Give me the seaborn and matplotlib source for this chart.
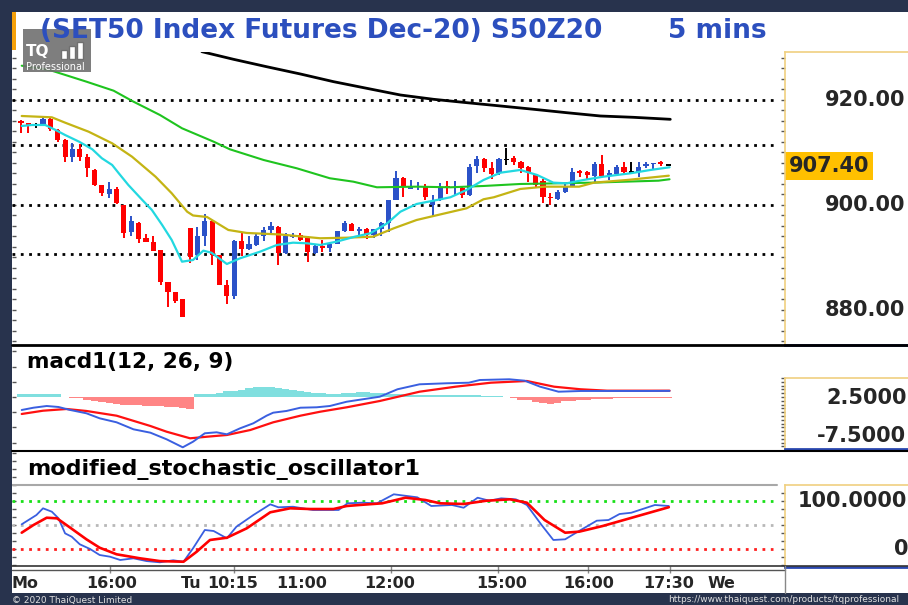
import numpy as np
import matplotlib
matplotlib.use("Agg")
import matplotlib.pyplot as plt
import matplotlib.transforms as mtrans
from matplotlib.patches import Rectangle
from matplotlib.lines import Line2D
from matplotlib.ticker import MultipleLocator, NullLocator, FixedLocator
import seaborn as sns

# ---- 5-minute candles ----
opens = [916.0, 915.6, 915.2, 915.2, 916.3, 914.3, 912.4, 909.1, 910.6, 909.1,
         906.7, 903.8, 902.1, 903.0, 900.0, 894.9, 896.6, 893.8, 893.0, 891.4,
         885.4, 883.5, 882.0, 895.6, 890.4, 894.1, 897.0, 890.5, 884.8, 882.7,
         893.2, 891.6, 892.4, 894.0, 895.2, 895.9, 890.8, 893.9, 894.3, 893.8,
         890.9, 892.1, 891.8, 892.6, 895.1, 896.4, 895.1, 895.5, 894.3, 895.4,
         896.6, 901.0, 905.1, 903.1, 903.4, 903.6, 900.0, 901.0, 903.6, 903.2,
         903.2, 901.9, 907.4, 908.7, 907.0, 906.0, 908.7, 908.9, 908.2, 907.2,
         905.7, 904.6, 901.5, 901.1, 902.5, 903.6, 906.5, 906.2, 905.5, 907.8,
         905.5, 905.9, 907.3, 906.3, 906.2, 907.4, 907.8, 908.1, 907.6]
highs = [916.2, 915.7, 915.7, 916.5, 916.6, 914.4, 912.5, 911.9, 911.7, 909.8,
         906.9, 903.8, 904.4, 903.4, 900.0, 897.9, 896.8, 894.5, 894.0, 891.4,
         885.4, 883.5, 882.0, 895.6, 895.9, 898.3, 897.2, 890.5, 885.7, 893.3,
         894.6, 894.0, 894.7, 895.9, 896.8, 896.0, 894.6, 894.6, 894.6, 894.0,
         892.3, 893.3, 892.6, 895.1, 897.0, 896.6, 895.9, 895.7, 895.5, 896.7,
         901.0, 906.5, 905.4, 904.8, 904.4, 904.0, 901.9, 904.2, 904.6, 904.6,
         903.5, 907.9, 909.3, 908.9, 908.2, 909.0, 910.8, 909.3, 908.3, 907.4,
         905.9, 904.9, 902.2, 902.9, 904.2, 907.0, 906.7, 906.5, 908.1, 909.5,
         906.7, 907.6, 908.1, 908.1, 908.1, 908.2, 907.9, 908.3, 907.7]
lows = [913.7, 913.7, 914.6, 915.2, 914.0, 912.0, 908.1, 908.2, 908.4, 905.4,
        903.6, 901.7, 901.3, 900.2, 893.8, 894.0, 892.7, 893.0, 891.3, 884.8,
        880.5, 881.4, 878.7, 888.9, 889.5, 892.1, 888.6, 884.8, 881.1, 882.0,
        890.2, 891.5, 892.1, 893.2, 894.3, 888.6, 890.6, 893.7, 893.2, 889.2,
        890.6, 891.1, 891.0, 892.5, 894.9, 895.0, 894.1, 893.5, 893.8, 894.1,
        894.9, 901.0, 901.5, 903.0, 902.9, 901.0, 897.9, 900.8, 902.1, 901.7,
        901.3, 901.7, 906.0, 906.3, 904.9, 905.8, 907.6, 907.6, 906.0, 904.4,
        903.4, 900.3, 900.0, 900.9, 902.2, 903.5, 905.4, 904.9, 904.2, 905.4,
        904.8, 905.8, 906.0, 906.2, 905.4, 907.0, 906.8, 907.4, 907.5]
closes = [915.6, 915.2, 915.2, 916.3, 914.4, 912.4, 909.1, 910.6, 909.1, 907.0,
          903.8, 902.2, 903.0, 900.3, 894.7, 897.0, 893.5, 893.0, 891.3, 885.4,
          883.5, 881.8, 878.7, 890.1, 894.1, 897.0, 890.5, 884.8, 882.7, 893.2,
          891.6, 892.6, 894.1, 895.2, 896.0, 890.8, 894.0, 894.3, 893.3, 891.1,
          892.1, 891.8, 892.6, 895.1, 896.5, 895.1, 895.5, 894.3, 895.5, 896.6,
          901.0, 905.1, 903.5, 903.6, 903.6, 901.5, 900.8, 903.5, 903.2, 903.4,
          901.9, 907.2, 908.7, 907.0, 905.9, 908.7, 908.7, 908.2, 907.0, 906.0,
          903.8, 901.5, 901.3, 902.5, 903.5, 906.3, 906.0, 905.7, 907.9, 905.5,
          906.0, 907.2, 906.3, 906.3, 907.3, 907.8, 907.9, 907.8, 907.6]

# ---- moving averages (x = bar number) ----
cyan_x = [0.1, 1.5, 3.3, 4.7, 6.0, 7.9, 9.7, 11.0, 12.4, 13.3, 14.6, 16.5, 17.8, 19.2, 20.5,
          21.9, 23.4, 24.8, 25.9, 28.0, 29.8, 32.5, 34.8, 37.0, 38.9, 40.7, 42.9, 45.4, 47.5,
          49.8, 51.6, 53.8, 56.1, 58.4, 60.6, 62.9, 65.2, 67.9, 70.2, 72.4, 74.2, 76.5, 79.2,
          82.9, 85.6, 88.2]
cyan_y = [915.05, 915.24, 915.24, 914.29, 913.33, 912.06, 910.61, 908.9, 907.62, 906.04,
          903.81, 900.95, 899.05, 896.19, 893.33, 889.2, 889.52, 891.3, 890.91, 888.76,
          889.85, 891.1, 892.38, 892.82, 892.7, 892.38, 893.01, 893.96, 894.61, 896.51,
          898.72, 900.19, 900.82, 901.47, 902.86, 904.76, 906.15, 906.67, 905.71, 904.25,
          904.13, 904.76, 905.39, 906.04, 906.67, 907.18]
olive_x = [0.1, 4.2, 6.0, 9.2, 12.4, 15.1, 18.3, 20.5, 22.6, 23.4, 25.3, 28.2, 30.7, 35.3, 40.7,
           44.3, 47.9, 50.7, 53.8, 56.1, 60.6, 62.9, 64.3, 67.9, 71.2, 75.9, 77.9, 82.4, 84.7, 88.1]
olive_y = [916.95, 916.7, 915.68, 913.96, 911.75, 909.2, 905.39, 902.23, 898.72, 898.0,
           897.71, 895.24, 894.67, 894.38, 893.66, 893.77, 893.96, 895.56, 897.14, 897.9,
           899.37, 901.09, 901.47, 903.05, 903.49, 903.49, 904.25, 904.76, 905.09, 905.58]
green_x = [0.1, 3.9, 8.9, 12.6, 15.3, 18.9, 21.9, 26.2, 28.4, 33.0, 37.5, 42.0, 45.2, 48.4,
           53.8, 58.4, 62.9, 67.9, 73.1, 77.6, 82.1, 86.7, 88.2]
green_y = [926.53, 925.71, 923.49, 921.77, 919.68, 917.14, 914.61, 912.06, 910.61, 908.57,
           906.99, 905.09, 904.44, 903.37, 903.49, 903.37, 903.62, 904.0, 904.13, 904.25,
           904.44, 904.63, 904.9]
black_x = [24.6, 28.9, 33.4, 38.0, 42.5, 47.0, 51.6, 56.1, 60.6, 65.2, 69.7, 74.2, 78.8, 83.3, 88.3]
black_y = [929.2, 927.75, 926.34, 924.95, 923.49, 922.23, 920.95, 920.13, 919.49, 918.86,
           918.23, 917.58, 916.95, 916.7, 916.32]
price_levels = [920.0, 911.4, 900.0, 890.7]
price_ticks = [920.0, 900.0, 880.0]
price_labels = ["920.00", "900.00", "880.00"]
last_price = 907.4

# ---- MACD(12, 26, 9) ----
macd_x = [0.1, 1.7, 3.5, 5.1, 6.7, 8.9, 10.7, 13.0, 15.3, 17.6, 19.8, 22.0, 23.4, 25.0, 26.6,
          28.0, 29.8, 31.6, 33.4, 34.3, 36.1, 38.0, 40.2, 42.0, 44.3, 48.8, 51.2, 54.2, 57.9,
          60.9, 62.4, 66.4, 68.5, 70.6, 73.1, 76.1, 85.2, 88.2]
macd_y = [-3.42, -2.82, -2.37, -2.63, -3.42, -4.29, -5.61, -6.66, -8.5, -9.39, -11.13, -13.24,
          -11.76, -9.55, -9.29, -9.82, -8.24, -6.92, -4.92, -4.13, -3.68, -2.82, -2.71, -2.37,
          -1.24, 0.08, 2.03, 3.34, 3.61, 3.76, 4.47, 4.66, 4.29, 2.71, 1.39, 1.58, 1.58, 1.6]
signal_x = [0.1, 3.0, 6.2, 8.9, 13.0, 17.6, 19.8, 23.0, 25.3, 28.0, 31.2, 34.3, 38.0, 40.7,
            44.3, 48.8, 54.2, 59.1, 63.9, 68.8, 72.5, 76.1, 79.7, 88.2]
signal_y = [-4.47, -3.61, -3.16, -3.68, -4.92, -7.63, -9.13, -10.87, -10.45, -10.0, -8.68,
            -6.66, -4.92, -3.87, -2.71, -1.05, 1.39, 2.71, 3.76, 4.21, 2.71, 2.03, 1.66, 1.66]
hist = [0.87, 0.87, 0.87, 0.87, 0.87, 0.87, 0.0, -0.18, -0.39, -0.71,
        -0.97, -1.24, -1.58, -1.92, -2.03, -2.11, -2.18, -2.37, -2.45, -2.5,
        -2.63, -2.71, -2.89, -3.03, 0.79, 0.87, 0.87, 1.18, 1.45, 1.58,
        1.97, 2.37, 2.5, 2.63, 2.63, 2.37, 2.11, 1.84, 1.66, 1.32,
        1.18, 1.0, 0.87, 0.87, 1.05, 1.13, 1.26, 1.32, 1.18, 1.0,
        0.87, 0.79, 0.71, 0.61, 0.58, 0.53, 0.47, 0.45, 0.45, 0.47,
        0.53, 0.61, 0.53, 0.39, 0.26, 0.13, 0.0, -0.26, -0.66, -0.92,
        -1.32, -1.71, -1.76, -1.45, -1.18, -1.05, -0.87, -0.71, -0.61, -0.53,
        -0.45, -0.39, -0.34, -0.32, -0.26, -0.26, -0.21, -0.18, -0.18]
macd_ticks = [2.5, -7.5]
macd_labels = ["2.5000", "-7.5000"]

# ---- modified stochastic oscillator ----
k_x = [0.1, 2.1, 3.0, 4.2, 5.1, 6.0, 6.9, 8.0, 9.4, 10.7, 12.1, 13.5, 15.3, 17.1, 18.9, 20.7,
       22.1, 23.4, 25.0, 26.2, 28.0, 29.3, 31.6, 33.9, 35.0, 37.0, 39.7, 43.2, 44.4, 46.4, 48.4,
       50.7, 53.9, 55.8, 58.6, 60.2, 62.1, 63.7, 65.3, 67.3, 68.8, 70.8, 72.4, 74.0, 75.5, 78.3,
       79.9, 81.4, 83.0, 86.2, 88.1]
k_y = [51.5, 70.8, 84.8, 77.7, 64.0, 32.6, 25.6, 9.8, 0.0, -12.5, -16.0, -22.9, -19.4, -25.2,
       -27.7, -23.5, -26.5, 1.5, 39.6, 37.5, 22.3, 46.5, 70.8, 93.1, 86.9, 88.1, 81.3, 81.3, 95.2,
       96.5, 95.2, 114.0, 107.7, 89.6, 91.7, 86.0, 106.9, 100.6, 105.6, 103.5, 91.7, 50.0, 18.8,
       20.2, 34.0, 59.0, 60.4, 72.9, 75.6, 91.7, 89.6]
d_x = [0.1, 1.7, 3.5, 4.9, 6.7, 8.9, 10.7, 13.0, 16.2, 18.9, 22.1, 23.9, 25.7, 28.0, 30.7, 33.9,
       36.6, 39.3, 42.5, 44.3, 46.0, 49.1, 52.3, 55.0, 57.0, 60.2, 63.3, 66.5, 68.8, 71.2, 74.0,
       75.9, 79.1, 88.1]
d_y = [34.0, 50.0, 65.2, 63.9, 44.4, 20.2, 2.7, -11.0, -19.4, -25.2, -26.5, -5.6, 18.8, 23.5,
       43.1, 76.5, 84.8, 83.3, 83.3, 89.6, 91.7, 95.2, 106.9, 102.1, 95.2, 93.8, 100.6, 103.5,
       96.5, 60.4, 34.0, 36.1, 47.9, 87.1]
stoch_levels = [100, 50, 0]
stoch_level_colors = ["#18e018", "#b8b8b8", "#ff2020"]
stoch_ticks = [100, 0]
stoch_labels = ["100.0000", "0"]

# ---- time axis ----
time_pos = [0.6, 12.3, 23.1, 28.8, 38.1, 50.2, 65.3, 77.2, 88.1, 95.2]
time_labels = ["Mo", "16:00", "Tu", "10:15", "11:00", "12:00", "15:00", "16:00", "17:30", "We"]
time_marks = [12.1, 23.1, 29.0, 38.1, 50.3, 64.9, 77.1, 88.2, 95.2]

BLUE = "#2b52c8"
RED = "#ff0000"
X_LO, X_HI = -1.22, 103.9

sns.set_style("white")
plt.rcParams["font.family"] = ["DejaVu Sans"]

W, H = 908, 605
fig = plt.figure(figsize=(W / 100, H / 100), dpi=100, facecolor="#28334d")


def box(x0, y0, x1, y1):
    return [x0 / W, 1 - y1 / H, (x1 - x0) / W, (y1 - y0) / H]


def fig_line(xs, ys, **kw):
    fig.add_artist(Line2D([x / W for x in xs], [1 - y / H for y in ys],
                          transform=fig.transFigure, zorder=6, **kw))


def plain(a, lo, hi, minor):
    a.set_xlim(X_LO, X_HI)
    a.set_ylim(lo, hi)
    for s in a.spines.values():
        s.set_visible(False)
    a.set_xticks([])
    a.yaxis.set_major_locator(NullLocator())
    a.yaxis.set_minor_locator(MultipleLocator(minor))
    a.tick_params(axis="y", which="minor", left=True, direction="in", length=3,
                  width=1, color="#555555")
    a.set_xlabel("")
    a.set_ylabel("")


def side_box(y0, y1, lo, hi, minor, bottom):
    a = fig.add_axes(box(785, y0, 908, y1))
    a.set_xlim(0, 1)
    a.set_ylim(lo, hi)
    a.set_xticks([])
    a.yaxis.set_major_locator(NullLocator())
    a.yaxis.set_minor_locator(MultipleLocator(minor))
    a.tick_params(axis="y", which="minor", left=True, direction="out", length=3,
                  width=1, color="#555555")
    for side in ("left", "top"):
        a.spines[side].set_color("#f0d080")
        a.spines[side].set_linewidth(1.2)
    a.spines["right"].set_visible(False)
    a.spines["bottom"].set_color(bottom)
    a.spines["bottom"].set_linewidth(2)
    a.patch.set_alpha(0)
    return a, mtrans.blended_transform_factory(a.transAxes, a.transData)


# white chart area
fig.add_artist(Rectangle((12 / W, 1 - 593 / H), (W - 12) / W, 581 / H,
                         transform=fig.transFigure, facecolor="white",
                         edgecolor="none", zorder=-5))
fig.add_artist(Rectangle((12 / W, 1 - 50 / H), 4 / W, 38 / H, transform=fig.transFigure,
                         facecolor="#f5a00a", edgecolor="none", zorder=-4))

# ---- price pane ----
ax = fig.add_axes(box(12, 52, 785, 345))
ax.patch.set_alpha(0)
idx = np.arange(len(opens))
o, h, l, c = (np.array(v) for v in (opens, highs, lows, closes))
cols = np.where(c > o, BLUE, np.where(c < o, RED, "black"))
for lv in price_levels:
    ax.axhline(lv, xmax=0.988, color="black", ls=(0, (1, 2)), lw=2, zorder=1)
ax.vlines(idx, l, h, colors=cols, lw=1.4, zorder=3)
ax.bar(idx, np.maximum(np.abs(c - o), 0.25), bottom=np.where(c == o, o - 0.12, np.minimum(o, c)),
       width=0.7, color=cols, lw=0, zorder=4)
for xs, ys, colr, lw in [(black_x, black_y, "black", 2.0), (green_x, green_y, "#1fc41f", 1.5),
                         (olive_x, olive_y, "#c4b414", 1.6), (cyan_x, cyan_y, "#22d8e0", 1.6)]:
    sns.lineplot(x=xs, y=ys, ax=ax, color=colr, lw=lw, sort=False, estimator=None,
                 legend=False, zorder=5)
plain(ax, 873.33, 929.14, 2)

LABEL_FS = 15
axr, tr = side_box(52, 345, 873.33, 929.14, 2, "#2a48b0")
for v, s in zip(price_ticks, price_labels):
    axr.text(0.325, v, s, transform=tr, fontsize=LABEL_FS, fontweight="bold", va="center",
             ha="left", clip_on=False)
axr.add_patch(Rectangle((0.0, last_price - 2.67), 0.715, 5.33, transform=tr,
                        facecolor="#ffc000", edgecolor="none", clip_on=False))
axr.text(0.03, last_price, f"{last_price:.2f}", transform=tr, fontsize=LABEL_FS,
         fontweight="bold", va="center", ha="left", clip_on=False)

# ---- MACD pane ----
axm = fig.add_axes(box(12, 345, 785, 451))
axm.patch.set_alpha(0)
hv = np.array(hist)
axm.bar(idx, hv, width=1.0, color=np.where(hv >= 0, "#80dfdf", "#ff8585"), lw=0, zorder=2)
sns.lineplot(x=macd_x, y=macd_y, ax=axm, color="#3a5fe0", lw=1.4, sort=False,
             estimator=None, legend=False, zorder=4)
sns.lineplot(x=signal_x, y=signal_y, ax=axm, color="#ff1010", lw=1.6, sort=False,
             estimator=None, legend=False, zorder=3)
plain(axm, -14.21, 13.68, 4)

axmr, trm = side_box(378, 449, -13.68, 5.0, 1, "#2a48b0")
for v, s, xf in zip(macd_ticks, macd_labels, [0.333, 0.26]):
    axmr.text(xf, v, s, transform=trm, fontsize=LABEL_FS, fontweight="bold", va="top",
              ha="left", clip_on=False)

# ---- stochastic pane ----
axs = fig.add_axes(box(12, 451, 785, 566))
axs.patch.set_alpha(0)
axs.axhline(133.3, xmax=0.99, color="#a8a8a8", lw=1.5, zorder=1)
for lv, colr in zip(stoch_levels, stoch_level_colors):
    axs.axhline(lv, xmax=0.985, color=colr, ls=(0, (1, 2)), lw=2, zorder=1)
sns.lineplot(x=k_x, y=k_y, ax=axs, color="#3a5fe0", lw=1.3, sort=False, estimator=None,
             legend=False, zorder=3)
sns.lineplot(x=d_x, y=d_y, ax=axs, color="#ff0000", lw=1.9, sort=False, estimator=None,
             legend=False, zorder=4)
plain(axs, -35.4, 204.2, 50 / 3)
axs.set_xticks(time_pos, labels=time_labels)
axs.xaxis.set_minor_locator(FixedLocator(time_marks))
axs.tick_params(axis="x", which="major", bottom=True, length=0, pad=7, labelsize=11.5)
axs.tick_params(axis="x", which="minor", bottom=True, length=5, width=1, direction="out",
                color="#888888")
for lab in axs.get_xticklabels():
    lab.set_fontweight("bold")

axsr, trs = side_box(485, 567, -37.5, 133.3, 50 / 3, "#2a48b0")
for v, s, xf in zip(stoch_ticks, stoch_labels, [0.1, 0.89]):
    axsr.text(xf, v, s, transform=trs, fontsize=LABEL_FS, fontweight="bold", va="center",
              ha="left", clip_on=False)

# pane separators
fig_line([12, 908], [344.5, 344.5], color="black", lw=2)
fig_line([12, 908], [451, 451], color="black", lw=1.5)
fig_line([12, 908], [566, 566], color="#333333", lw=1.2)
fig_line([12, 785], [570, 570], color="#555555", lw=1.0)
fig_line([785, 785], [566, 593], color="#888888", lw=1.0)

# titles and logo
fig.add_artist(Rectangle((23 / W, 1 - 72 / H), 68 / W, 43 / H, transform=fig.transFigure,
                         facecolor="#707070", edgecolor="none", alpha=0.9, zorder=7))
fig.text(40 / W, 1 - 31 / H, "(SET50 Index Futures Dec-20) S50Z20", fontsize=19,
         fontweight="bold", color="#2c4fbe", va="center", zorder=8)
fig.text(668 / W, 1 - 31 / H, "5 mins", fontsize=19, fontweight="bold", color="#2c4fbe",
         va="center", zorder=8)
fig.text(26 / W, 1 - 51.5 / H, "TQ", fontsize=11, fontweight="bold", color="white",
         va="center", zorder=9)
for bx, bh in [(61, 9), (69, 13), (77, 17)]:
    fig.add_artist(Rectangle((bx / W, 1 - 59 / H), 6 / W, bh / H, transform=fig.transFigure,
                             facecolor="white", edgecolor="#707070", lw=1, zorder=9))
fig.text(26 / W, 1 - 66.5 / H, "Professional", fontsize=7, color="white", va="center",
         zorder=9)
fig.text(27 / W, 1 - 362 / H, "macd1(12, 26, 9)", fontsize=15.5, fontweight="bold",
         color="black", va="center", zorder=8)
fig.text(27 / W, 1 - 469 / H, "modified_stochastic_oscillator1", fontsize=16,
         fontweight="bold", color="black", va="center", zorder=8)

# footer
fig.text(12 / W, 1 - 600 / H, "© 2020 ThaiQuest Limited", fontsize=6.5, color="#e0e0e0",
         va="center")
fig.text(668 / W, 1 - 600 / H, "https://www.thaiquest.com/products/tqprofessional",
         fontsize=6.5, color="#e0e0e0", va="center")

fig.savefig("out.png", dpi=100, facecolor=fig.get_facecolor())
